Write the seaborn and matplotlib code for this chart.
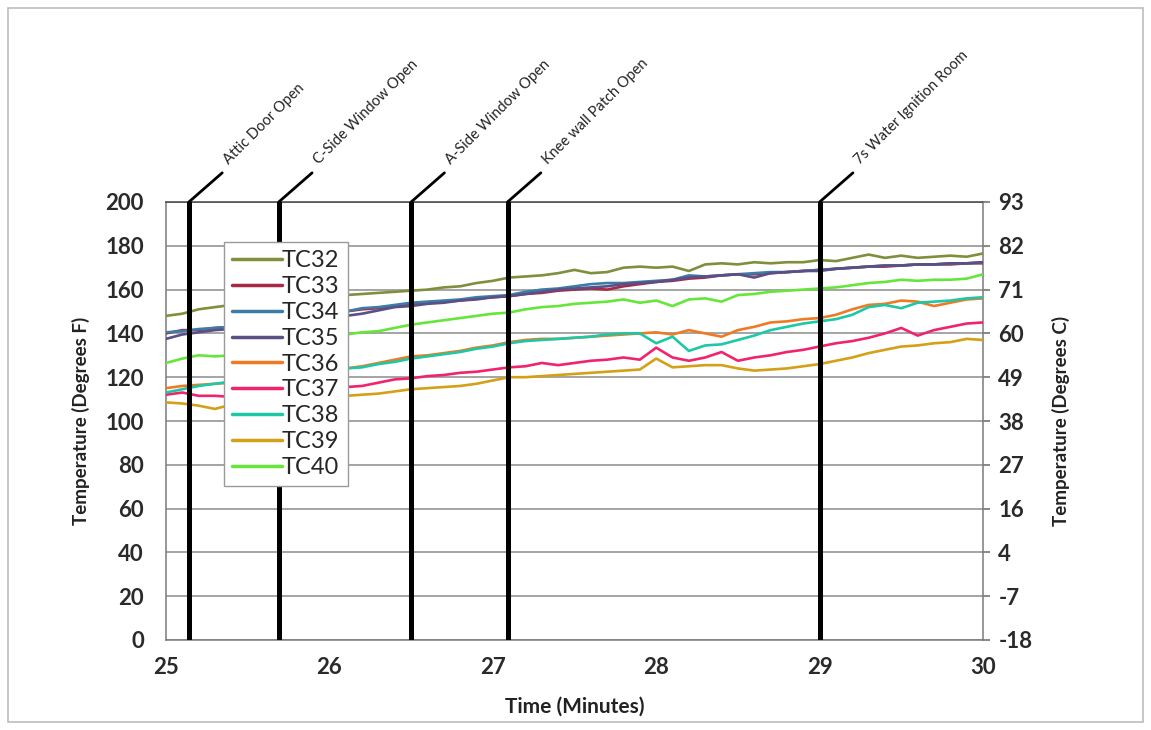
import numpy as np
import pandas as pd
import matplotlib
matplotlib.use("Agg")
import matplotlib.pyplot as plt
import seaborn as sns
from matplotlib.patches import Rectangle

# ---------------- data ----------------
time_min = [round(25 + 0.1 * i, 1) for i in range(51)]

tc32 = [148, 149, 151, 152, 153, 154, 154.5, 155, 156, 156.5, 157, 157.5, 158, 158.5, 159, 159.5,
        160, 161, 161.5, 163, 164, 165.5, 166, 166.5, 167.5, 169, 167.5, 168, 170, 170.5, 170,
        170.5, 168.5, 171.5, 172, 171.5, 172.5, 172, 172.5, 172.5, 173.5, 173, 174.5, 176, 174.5,
        175.5, 174.5, 175, 175.5, 175, 176.5]
tc33 = [140, 141.5, 141.5, 142.5, 143, 144, 145, 146, 147, 148, 149, 150, 151, 151.5, 152.5, 153.5,
        154, 154.5, 155, 156, 156.5, 157, 158, 158.5, 159.5, 160, 160.5, 160, 161.5, 162.5, 163.5,
        164, 165, 165.5, 166.5, 167, 167, 167.5, 168, 168.5, 169, 169.5, 170, 170.5, 170.5, 171,
        171.5, 171.5, 171.5, 172, 172]
tc34 = [140.5, 141, 142, 142.5, 143, 144, 145, 146, 147, 148, 149, 150, 151.5, 152, 153, 154,
        154.5, 155, 155.5, 156.5, 157, 157.5, 159, 160, 160.5, 161.5, 162.5, 163, 163, 163.5, 164,
        164.5, 166.5, 166, 166.5, 167, 167.5, 168, 168, 168.5, 169, 169.5, 170, 170.5, 171, 171,
        171.5, 171.5, 172, 172, 172.5]
tc35 = [137.5, 139.5, 140.5, 141.5, 142, 143, 144, 145, 146, 147, 147.5, 148, 149, 150.5, 152, 152.5,
        153.5, 154, 155, 155.5, 156.5, 157, 158, 159, 160, 160.5, 161, 161.5, 162.5, 163, 163.5,
        164.5, 165.5, 166, 166.5, 167, 165.5, 167.5, 168, 168.5, 168.5, 169.5, 170, 170.5, 171, 171,
        171.5, 171.5, 172, 172, 172.5]
tc36 = [115, 116, 116.5, 117, 117.5, 118, 119, 120, 121, 122, 123, 124, 125, 126.5, 128, 129.5,
        130, 131, 132, 133.5, 134.5, 136, 137, 137.5, 137.5, 138, 138.5, 139, 139.5, 140, 140.5,
        139.5, 141.5, 140, 138.5, 141.5, 143, 145, 145.5, 146.5, 147, 148.5, 151, 153, 153.5, 155,
        154.5, 152.5, 154, 155.5, 156]
tc37 = [112, 113, 111.5, 111.5, 111, 111.5, 112, 112.5, 113, 113.5, 114.5, 115.5, 116, 117.5, 119, 119.5,
        120.5, 121, 122, 122.5, 123.5, 124.5, 125, 126.5, 125.5, 126.5, 127.5, 128, 129, 128, 133.5,
        129, 127.5, 129, 131.5, 127.5, 129, 130, 131.5, 132.5, 134, 135.5, 136.5, 138, 140, 142.5,
        139, 141.5, 143, 144.5, 145]
tc38 = [113, 114.5, 116, 117, 118, 118.5, 119, 120, 121, 122, 123, 124, 124.5, 126, 127, 128.5,
        129.5, 130.5, 131.5, 133, 134, 135.5, 136.5, 137, 137.5, 138, 138.5, 139.5, 140, 140, 135.5,
        138.5, 132, 134.5, 135, 137, 139, 141.5, 143, 144.5, 145.5, 146.5, 148.5, 152, 153, 151.5,
        154, 154.5, 155, 156, 156.5]
tc39 = [108.5, 108, 107, 105.5, 107.5, 108.5, 109, 109.5, 110, 110.5, 111, 111.5, 112, 112.5, 113.5, 114.5,
        115, 115.5, 116, 117, 118.5, 120, 120, 120.5, 121, 121.5, 122, 122.5, 123, 123.5, 128.5,
        124.5, 125, 125.5, 125.5, 124, 123, 123.5, 124, 125, 126, 127.5, 129, 131, 132.5, 134,
        134.5, 135.5, 136, 137.5, 137]
tc40 = [126.5, 128.5, 130, 129.5, 130, 131, 132.5, 134, 135.5, 137, 138.5, 139.5, 140.5, 141, 142.5, 144,
        145, 146, 147, 148, 149, 149.5, 151, 152, 152.5, 153.5, 154, 154.5, 155.5, 154, 155,
        152.5, 155.5, 156, 154.5, 157.5, 158, 159, 159.5, 160, 160.5, 161, 162, 163, 163.5, 164.5,
        164, 164.5, 164.5, 165, 167]

series_names = ["TC32", "TC33", "TC34", "TC35", "TC36", "TC37", "TC38", "TC39", "TC40"]
series_values = [tc32, tc33, tc34, tc35, tc36, tc37, tc38, tc39, tc40]
series_colors = ["#7F8F3C", "#A52A45", "#3A7EA8", "#5B4F86", "#F07A24", "#F0236E", "#1CC8A6", "#D4A017", "#66E63A"]

event_times = [25.14, 25.69, 26.5, 27.09, 29.0]
event_labels = ["Attic Door Open", "C-Side Window Open", "A-Side Window Open",
                "Knee wall Patch Open", "7s Water Ignition Room"]

yticks_f = [0, 20, 40, 60, 80, 100, 120, 140, 160, 180, 200]
yticks_c_labels = ["-18", "-7", "4", "16", "27", "38", "49", "60", "71", "82", "93"]
xticks = [25, 26, 27, 28, 29, 30]

# ---------------- plot ----------------
sns.set_theme(style="white")
plt.rcParams["font.family"] = ["Lato", "DejaVu Sans"]

df = pd.DataFrame({"Time": time_min * len(series_names),
                   "Sensor": np.repeat(series_names, len(time_min)),
                   "Temp": np.concatenate(series_values)})

fig = plt.figure(figsize=(11.51, 7.30), dpi=100)
ax = fig.add_axes([166 / 1151, 1 - 640 / 730, (983 - 166) / 1151, (640 - 202) / 730])

sns.lineplot(data=df, x="Time", y="Temp", hue="Sensor", hue_order=series_names,
             palette=series_colors, linewidth=1.9, ax=ax, zorder=3)

ax.set_xlim(25, 30)
ax.set_ylim(0, 200)
ax.set_xticks(xticks)
ax.set_yticks(yticks_f)
ax.set_xticklabels([str(v) for v in xticks], fontsize=16, fontweight="bold", color="#2A2A2A")
ax.set_yticklabels([str(v) for v in yticks_f], fontsize=16, fontweight="bold", color="#2A2A2A")
ax.yaxis.grid(True, color="#8C8C8C", linewidth=1.1)
ax.xaxis.grid(False)
for s in ax.spines.values():
    s.set_color("#7A7A7A")
    s.set_linewidth(1.1)
ax.spines["top"].set_color("#444444")
ax.tick_params(axis="y", length=0, pad=16)
ax.tick_params(axis="x", length=0, pad=12)
ax.set_xlabel("Time (Minutes)", fontsize=15, fontweight="bold", color="#222222", labelpad=14)
ax.set_ylabel("Temperature (Degrees F)", fontsize=13.5, fontweight="bold", color="#222222", labelpad=11)

# right axis in Celsius
ax2 = ax.twinx()
ax2.set_ylim(0, 200)
ax2.set_yticks(yticks_f)
ax2.set_yticklabels(yticks_c_labels, fontsize=16, fontweight="bold", color="#2A2A2A")
ax2.tick_params(axis="y", length=5, color="#7A7A7A", pad=6)
for s in ax2.spines.values():
    s.set_visible(False)
ax2.set_ylabel("Temperature (Degrees C)", fontsize=13.5, fontweight="bold", color="#222222", labelpad=14)
ax2.grid(False)

# event lines with angled labels
for t, lab in zip(event_times, event_labels):
    ax.axvline(t, color="black", linewidth=3.6, zorder=5)
    ax.annotate("", xy=(t, 200), xycoords="data", xytext=(24, 21), textcoords="offset points",
                arrowprops=dict(arrowstyle="-", color="black", lw=2.0, shrinkA=0, shrinkB=0),
                annotation_clip=False)
    ax.annotate(lab, xy=(t, 200), xycoords="data", xytext=(29, 27), textcoords="offset points",
                rotation=45, rotation_mode="anchor", ha="left", va="baseline",
                fontsize=10.5, color="#222222", annotation_clip=False)

leg = ax.legend(loc="upper left", bbox_to_anchor=(0.071, 0.9087), borderaxespad=0,
                frameon=True, fancybox=False, fontsize=17, handlelength=2.1,
                handletextpad=0.0, labelspacing=0.205, borderpad=0.35, title=None,
                framealpha=1.0, facecolor="white")
leg.get_frame().set_edgecolor("#9A9A9A")
leg.get_frame().set_linewidth(1.0)
leg.set_zorder(10)
for line in leg.get_lines():
    line.set_linewidth(2.5)

fig.patches.append(Rectangle((8 / 1151, 1 - 722 / 730), (1143 - 8) / 1151, (722 - 8) / 730,
                             transform=fig.transFigure, fill=False, edgecolor="#BDBDBD", linewidth=1.2))

fig.savefig("out.png", dpi=100)
